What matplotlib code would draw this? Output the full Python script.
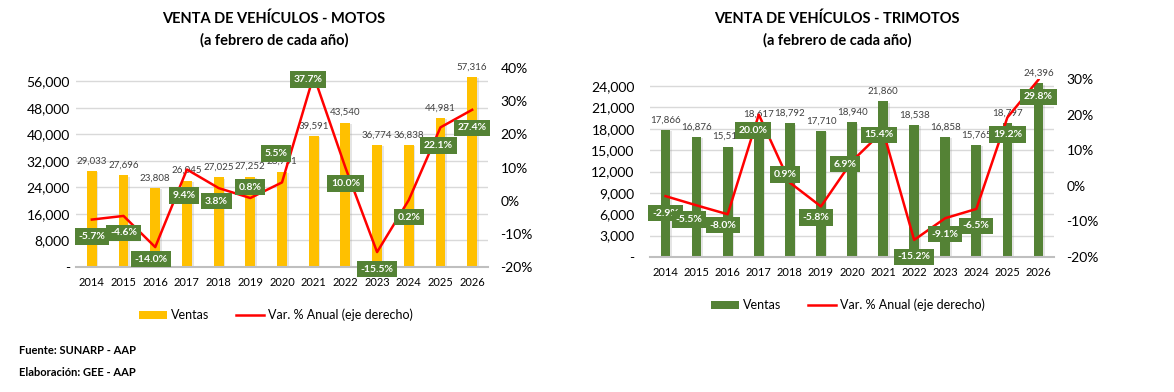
import matplotlib
matplotlib.use("Agg")
import numpy as np
import matplotlib.pyplot as plt
import matplotlib.patheffects as pe
from matplotlib.patches import Patch
from matplotlib.lines import Line2D
from matplotlib.ticker import FuncFormatter, MultipleLocator

plt.rcParams['font.family'] = ['Lato', 'DejaVu Sans']

years = [str(y) for y in range(2014, 2027)]
motos_ventas = [29033, 27696, 23808, 26045, 27025, 27252, 28751, 39591, 43540, 36774, 36838, 44981, 57316]
motos_var = [-5.7, -4.6, -14.0, 9.4, 3.8, 0.8, 5.5, 37.7, 10.0, -15.5, 0.2, 22.1, 27.4]
trimotos_ventas = [17866, 16876, 15518, 18617, 18792, 17710, 18940, 21860, 18538, 16858, 15765, 18797, 24396]
trimotos_var = [-2.9, -5.5, -8.0, 20.0, 0.9, -5.8, 6.9, 15.4, -15.2, -9.1, -6.5, 19.2, 29.8]

# where the % boxes sit relative to their point (pixels), hand placed like in the excel original
motos_off = [(0, -17), (0, -17), (-4, -12), (-3, -26), (-2, -13), (0, 11), (-6, 29), (-6, -4),
             (0, -16), (0, -17), (0, -17), (-2, -18), (0, -18)]
trimotos_off = [(0, -17), (-8, -14), (-5, -11), (-6, -16), (-5, 8), (-5, -11), (-7, -3), (-4, -4),
                (0, -17), (0, -16), (0, -17), (0, -17), (0, -17)]

RED = '#FF0000'
GRID = '#D9D9D9'
DARK = '#404040'

fig = plt.figure(figsize=(11.74, 3.92), dpi=100)


def draw(rect, ventas, var, color, ymax, ystep, rlim, offsets, title, tx, leg_xy, ypad):
    ax = fig.add_axes(rect)
    x = np.arange(len(years))
    bars = ax.bar(x, ventas, width=0.31, color=color, zorder=2)
    for b in bars:
        b.set_path_effects([pe.SimplePatchShadow(offset=(1.2, -1.0), shadow_rgbFace='#9A9A9A', alpha=0.25),
                            pe.Normal()])
    ax.set_xlim(-0.5, len(years) - 0.5)
    ax.set_ylim(0, ymax)
    ax.yaxis.set_major_locator(MultipleLocator(ystep))
    ax.yaxis.set_major_formatter(FuncFormatter(lambda v, p: '-' if v == 0 else f'{v:,.0f}'))
    ax.set_xticks(x)
    ax.set_xticklabels(years)
    ax.grid(axis='y', color=GRID, lw=1, zorder=0)
    ax.set_axisbelow(True)
    for s in ['top', 'right', 'left']:
        ax.spines[s].set_visible(False)
    ax.spines['bottom'].set_color('#BFBFBF')
    ax.spines['bottom'].set_linewidth(1.5)
    ax.tick_params(axis='both', length=0, colors='black')
    ax.tick_params(axis='y', labelsize=10, pad=ypad)
    ax.tick_params(axis='x', labelsize=8, pad=7)
    for xi, v in zip(x, ventas):
        ax.annotate(f'{v:,}', (xi, v), xytext=(0, 10), textcoords='offset pixels',
                    ha='center', va='center', fontsize=7, color=DARK)

    ax2 = ax.twinx()
    ax2.set_ylim(*rlim)
    ax2.yaxis.set_major_locator(MultipleLocator(10))
    ax2.yaxis.set_major_formatter(FuncFormatter(lambda v, p: f'{v:.0f}%'))
    for s in ax2.spines.values():
        s.set_visible(False)
    ax2.tick_params(length=0, labelsize=10, pad=9)
    ax2.plot(x, var, color=RED, lw=1.8, zorder=3)
    for xi, v, (dx, dy) in zip(x, var, offsets):
        ax2.annotate(f'{v:.1f}%', (xi, v), xytext=(dx, dy), textcoords='offset pixels',
                     ha='center', va='center', fontsize=7.5, fontweight='bold', color='white',
                     zorder=5,
                     bbox=dict(boxstyle='square,pad=0.35', fc='#548235', ec='none'))

    fig.text(tx, 1 - 19 / 392, title, ha='center', va='center', fontsize=10.5, fontweight='bold')
    fig.text(tx, 1 - 40 / 392, '(a febrero de cada año)', ha='center', va='center',
             fontsize=10.5, fontweight='bold')

    handles = [Patch(fc=color, ec='none'), Line2D([], [], color=RED, lw=1.8)]
    fig.legend(handles, ['Ventas', 'Var. % Anual (eje derecho)'], loc='center',
               bbox_to_anchor=leg_xy, ncol=2, frameon=False, fontsize=9,
               handlelength=2.2, handleheight=0.6, columnspacing=2.2, handletextpad=0.3)


draw([76 / 1174, 1 - 267 / 392, 412 / 1174, 199 / 392], motos_ventas, motos_var, '#FFC000',
     60000, 8000, (-20, 40), motos_off, 'VENTA DE VEHÍCULOS - MOTOS', 274 / 1174,
     (276 / 1174, 1 - 315 / 392), 4.5)
draw([650 / 1174, 1 - 257 / 392, 404 / 1174, 178 / 392], trimotos_ventas, trimotos_var, '#548235',
     25000, 3000, (-20, 30), trimotos_off, 'VENTA DE VEHÍCULOS - TRIMOTOS', 837 / 1174,
     (848 / 1174, 1 - 305 / 392), 11)

fig.text(19 / 1174, 1 - 350 / 392, 'Fuente: SUNARP - AAP', fontsize=8, fontweight='bold', va='center')
fig.text(19 / 1174, 1 - 373 / 392, 'Elaboración: GEE - AAP', fontsize=8, fontweight='bold', va='center')

fig.savefig('out.png', dpi=100, facecolor='white')
